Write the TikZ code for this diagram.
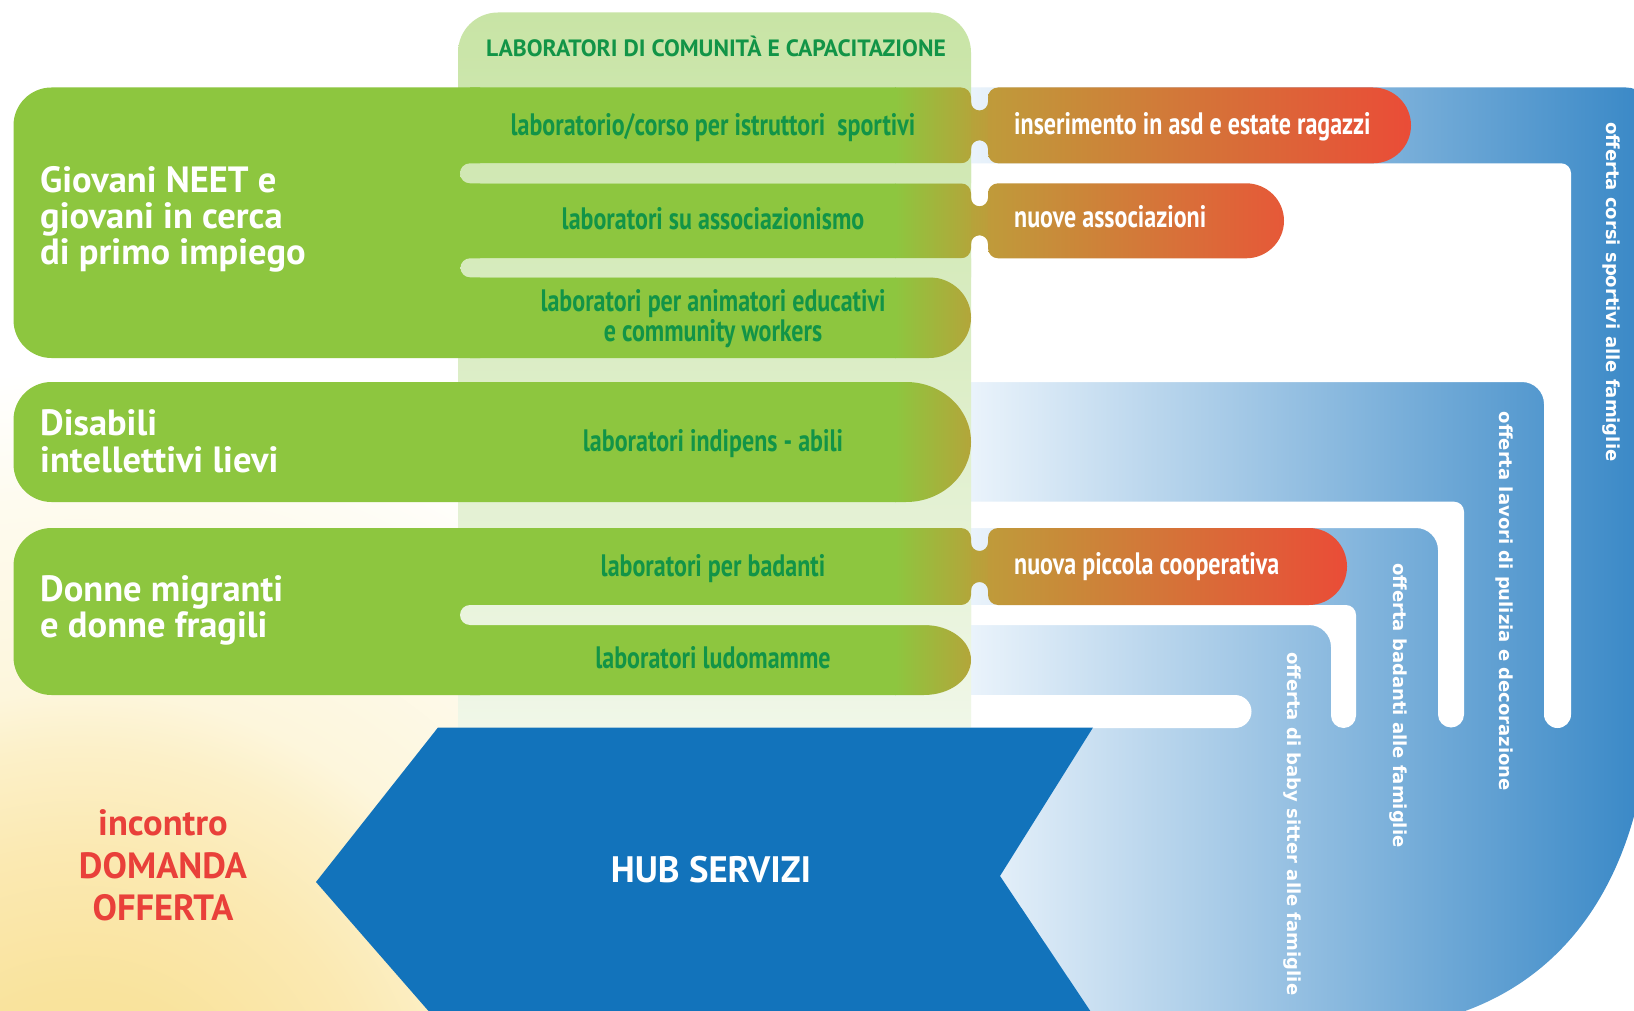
\documentclass[tikz,border=0pt]{standalone}
\usepackage{fontspec}
\setmainfont{PT Sans}
\newfontfamily\narrowfam{PT Sans}[FakeStretch=0.775]
\newfontfamily\dvfam{DejaVu Sans}
\definecolor{grn}{HTML}{8DC63F}
\definecolor{olv}{HTML}{B4A53A}
\definecolor{gld}{HTML}{BF9B3A}
\definecolor{org}{HTML}{EA4C37}
\definecolor{org2}{HTML}{E65838}
\definecolor{colT}{HTML}{C8E4A5}
\definecolor{colB}{HTML}{F0F7E8}
\definecolor{bluL}{HTML}{EAF3FB}
\definecolor{bluR}{HTML}{3787C6}
\definecolor{hub}{HTML}{1273BB}
\definecolor{dgrn}{HTML}{129447}
\definecolor{redt}{HTML}{E9403A}
\definecolor{ylwA}{HTML}{F8DF92}
\definecolor{ylwB}{HTML}{F9E39D}
\definecolor{ylwC}{HTML}{FBE9B2}
\definecolor{ylwD}{HTML}{FCF0C8}
\definecolor{ylwE}{HTML}{FDF6DC}
\definecolor{ylwF}{HTML}{FEFBEF}
\pgfdeclareradialshading{bgglow}{\pgfpoint{0bp}{0bp}}{color(0bp)=(ylwA); color(4bp)=(ylwB); color(7.5bp)=(ylwC); color(10bp)=(ylwD); color(11.5bp)=(ylwE); color(16.25bp)=(ylwF); color(19.5bp)=(white); color(50bp)=(white)}
\newcommand\fHead{\fontsize{23.6}{25}\selectfont\bfseries}
\newcommand\fRow{\narrowfam\bfseries\fontsize{31}{29}\selectfont}
\newcommand\fGroup{\fontsize{36.5}{38}\selectfont\bfseries}
\newcommand\fHub{\fontsize{36.8}{38}\selectfont\bfseries}
\newcommand\fVert{\dvfam\bfseries\fontsize{18}{20}\selectfont}
\def\colpath{(458,727.5) -- (458,52.5) arc[start angle=180,end angle=270,radius=40] -- (931,12.5) arc[start angle=-90,end angle=0,radius=40] -- (971,727.5) -- cycle}
\newcommand\greenrow[5]{%
  \begin{scope}
    \clip (#5,#1) -- ({971-#3},#1) arc[start angle=-90,end angle=0,x radius=#3,y radius=#4] -- (971,{#2-#4}) arc[start angle=0,end angle=90,x radius=#3,y radius=#4] -- (#5,#2) -- cycle;
    \fill[grn] (#5-1,#1-1) rectangle (896,#2+1);
    \shade[left color=grn,right color=olv] (895,#1-1) rectangle (972,#2+1);
  \end{scope}}
\newcommand\stripe[2]{%
  \begin{scope}
    \clip (470,#1) -- (972,#1) -- (972,#2) -- (470,#2) arc[start angle=90,end angle=270,radius={(#2-#1)/2}] -- cycle;
    \shade[top color=colT,bottom color=colB] \colpath;
  \end{scope}}
\newcommand\neck[2]{%
  \shade[left color=olv,right color=gld] (966,{#1+14.5}) -- (971,{#1+14.5}) arc[start angle=180,end angle=0,radius=8.5] -- (994,{#1+14.5}) -- (994,{#2-14.5}) -- (988,{#2-14.5}) arc[start angle=0,end angle=-180,radius=8.5] -- (966,{#2-14.5}) -- cycle;}
\newcommand\orangebox[4]{%
  \begin{scope}
    \clip (998,#1) -- ({#3-38},#1) arc[start angle=-90,end angle=90,x radius=38,y radius={(#2-#1)/2}] -- (998,#2) arc[start angle=90,end angle=180,radius=10] -- (988,{#1+10}) arc[start angle=180,end angle=270,radius=10] -- cycle;
    \shade[left color=gld,right color=#4] (987,#1-1) rectangle (#3+1,#2+1);
  \end{scope}}
\tikzset{lbl/.style={inner sep=0pt}}
\begin{document}
\begin{tikzpicture}[x=1pt,y=-1pt]
\useasboundingbox (0,0) rectangle (1634,1011);
\begin{scope}
\clip (0,0) rectangle (1634,1011);
% background
\fill[white] (0,0) rectangle (1634,1011);
\shade[shading=bgglow] (80,1150) circle (1000);
% blue structure
\shade[left color=bluL,right color=bluR] (971,87.5) -- (1626,87.5) arc[start angle=-90,end angle=0,radius=25] -- (1651,680) .. controls (1651,900) and (1540,1030) .. (1350,1030) -- (971,1030) -- cycle;
\fill[white] (971,163.3) -- (1561,163.3) arc[start angle=-90,end angle=0,radius=10] -- (1571,714.5) arc[start angle=0,end angle=180,radius=13.5] -- (1544,404) arc[start angle=0,end angle=-90,radius=22] -- (971,382) -- cycle;
\fill[white] (971,501.7) -- (1454,501.7) arc[start angle=-90,end angle=0,radius=10] -- (1464,714.5) arc[start angle=0,end angle=180,radius=13] -- (1438,550) arc[start angle=0,end angle=-90,radius=22] -- (971,528) -- cycle;
\fill[white] (971,605) -- (1346,605) arc[start angle=-90,end angle=0,radius=10] -- (1356,715.5) arc[start angle=0,end angle=180,radius=12.5] -- (1331,647) arc[start angle=0,end angle=-90,radius=22] -- (971,625) -- cycle;
\fill[white] (971,695) -- (1235,695) arc[start angle=-90,end angle=90,radius=16.5] -- (971,728) -- cycle;
% column
\shade[top color=colT,bottom color=colB] \colpath;
% hub chevron
\fill[hub] (438,727.5) -- (1093,727.5) -- (1000,876) -- (1093,1015) -- (432,1015) -- (316,882) -- cycle;
% necks
\neck{87.5}{163.3}
\neck{183.3}{258.3}
\neck{528}{605}
% group 1
\fill[grn] (51.5,87.5) -- (480,87.5) -- (480,358) -- (51.5,358) arc[start angle=90,end angle=180,radius=38] -- (13.5,125.5) arc[start angle=180,end angle=270,radius=38] -- cycle;
\greenrow{87.5}{163.3}{10}{10}{470}
\greenrow{183.3}{258.3}{10}{10}{470}
\greenrow{277.3}{358}{42}{40.35}{470}
\stripe{163.3}{183.3}
\stripe{258.3}{277.3}
% disabili
\begin{scope}
\clip (51.5,382) -- (906,382) arc[start angle=-90,end angle=90,x radius=65,y radius=60] -- (51.5,502) arc[start angle=90,end angle=180,radius=38] -- (13.5,420) arc[start angle=180,end angle=270,radius=38] -- cycle;
\fill[grn] (10,380) rectangle (896,504);
\shade[left color=grn,right color=olv] (895,380) rectangle (972,504);
\end{scope}
% group 3
\fill[grn] (51.5,528) -- (480,528) -- (480,695) -- (51.5,695) arc[start angle=90,end angle=180,radius=38] -- (13.5,566) arc[start angle=180,end angle=270,radius=38] -- cycle;
\greenrow{528}{605}{10}{10}{470}
\greenrow{625}{695}{47}{35}{470}
\stripe{605}{625}
% orange boxes
\orangebox{87.5}{163.3}{1411}{org}
\orangebox{183.3}{258.3}{1284}{org2}
\orangebox{528}{605}{1347}{org}
% texts
\node (hdr) [lbl,anchor=base,text=dgrn,font=\fHead] at (716,57) {LABORATORI DI COMUNITÀ E CAPACITAZIONE};
\node (r1) [lbl,anchor=base,text=dgrn,font=\fRow] at (713,135.3) {laboratorio/corso per istruttori~ sportivi};
\node (r2) [lbl,anchor=base,text=dgrn,font=\fRow] at (713,229.7) {laboratori su associazionismo};
\node (r3a) [lbl,anchor=base,text=dgrn,font=\fRow] at (713,312) {laboratori per animatori educativi};
\node (r3b) [lbl,anchor=base,text=dgrn,font=\fRow] at (713,341) {e community workers};
\node (rd) [lbl,anchor=base,text=dgrn,font=\fRow] at (713,451.5) {laboratori indipens - abili};
\node (rb) [lbl,anchor=base,text=dgrn,font=\fRow] at (713,576) {laboratori per badanti};
\node (rl) [lbl,anchor=base,text=dgrn,font=\fRow] at (713,668.7) {laboratori ludomamme};
\node (o1) [lbl,anchor=base west,text=white,font=\fRow] at (1014,135) {inserimento in asd e estate ragazzi};
\node (o2) [lbl,anchor=base west,text=white,font=\fRow] at (1014,228) {nuove associazioni};
\node (o3) [lbl,anchor=base west,text=white,font=\fRow] at (1014,574.7) {nuova piccola cooperativa};
\node (g1a) [lbl,anchor=base west,text=white,font=\fGroup] at (40,193) {Giovani NEET e};
\node (g1b) [lbl,anchor=base west,text=white,font=\fGroup] at (40,229) {giovani in cerca};
\node (g1c) [lbl,anchor=base west,text=white,font=\fGroup] at (40,265) {di primo impiego};
\node (g2a) [lbl,anchor=base west,text=white,font=\fGroup] at (40,435) {Disabili};
\node (g2b) [lbl,anchor=base west,text=white,font=\fGroup] at (40,472) {intellettivi lievi};
\node (g3a) [lbl,anchor=base west,text=white,font=\fGroup] at (40,601) {Donne migranti};
\node (g3b) [lbl,anchor=base west,text=white,font=\fGroup] at (40,637) {e donne fragili};
\node (hubt) [lbl,anchor=base,text=white,font=\fHub] at (711,882) {HUB SERVIZI};
\node (ma) [lbl,anchor=base,text=redt,font=\fGroup] at (163,835.5) {incontro};
\node (mb) [lbl,anchor=base,text=redt,font=\fGroup] at (163,878) {DOMANDA};
\node (mc) [lbl,anchor=base,text=redt,font=\fGroup] at (163,920) {OFFERTA};
\node (va) [lbl,rotate=-90,anchor=west,text=white,font=\fVert] at (1611,122) {offerta corsi sportivi alle famiglie};
\node (vb) [lbl,rotate=-90,anchor=west,text=white,font=\fVert] at (1504,411.7) {offerta lavori di pulizia e decorazione};
\node (vc) [lbl,rotate=-90,anchor=west,text=white,font=\fVert] at (1398,563) {offerta badanti alle famiglie};
\node (vd) [lbl,rotate=-90,anchor=west,text=white,font=\fVert] at (1292,652) {offerta di baby sitter alle famiglie};
\end{scope}
\end{tikzpicture}
\end{document}
